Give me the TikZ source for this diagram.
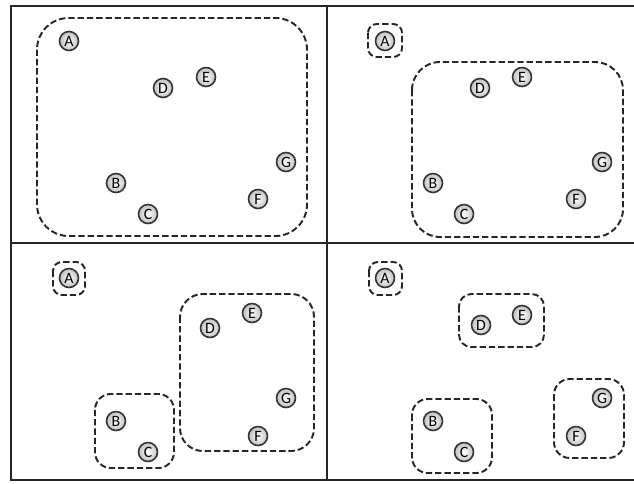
\documentclass[tikz,border=0pt]{standalone}
\usepackage{fontspec}
\setsansfont{Carlito}
\usepackage{tikz}

\tikzset{
  pt/.style={circle, draw=black!80, line width=0.9pt, inner sep=0pt,
    shading=radial, inner color=white, outer color=gray!50,
    minimum size=0.38cm, font=\sffamily\small},
  grp/.style={draw=black!85, line width=1.1pt, dash pattern=on 3.6pt off 1.7pt,
    rounded corners=#1},
  grp/.default=5pt,
  frame/.style={line width=1.6pt, black!85}
}

\begin{document}
\begin{tikzpicture}[x=0.02cm, y=-0.02cm]
    \useasboundingbox (0,0) rectangle (634,483);
    % Panel frame (open on the right side)
    \draw[frame] (640,6) -- (11,6) -- (11,480) -- (640,480);
    \draw[frame] (327,6) -- (327,480);
    \draw[frame] (11,243) -- (640,243);
    % Top left: one cluster
    \node[pt] (A1) at (69,41) {A};
    \node[pt] (B1) at (116,183) {B};
    \node[pt] (C1) at (148,214) {C};
    \node[pt] (D1) at (163,88) {D};
    \node[pt] (E1) at (206,77) {E};
    \node[pt] (F1) at (258,199) {F};
    \node[pt] (G1) at (286,162) {G};
    \draw[grp=18pt] (37,18) rectangle (307,236);
    % Top right: A split off
    \node[pt] (A2) at (385,41) {A};
    \node[pt] (B2) at (433,183) {B};
    \node[pt] (C2) at (464,214) {C};
    \node[pt] (D2) at (480,88) {D};
    \node[pt] (E2) at (522,77) {E};
    \node[pt] (F2) at (576,199) {F};
    \node[pt] (G2) at (602,162) {G};
    \draw[grp] (368,24) rectangle (402,57);
    \draw[grp=16pt] (412,62) rectangle (623,237);
    % Bottom left: three clusters
    \node[pt] (A3) at (69,278) {A};
    \node[pt] (B3) at (116,421) {B};
    \node[pt] (C3) at (148,452) {C};
    \node[pt] (D3) at (210,328) {D};
    \node[pt] (E3) at (252,313) {E};
    \node[pt] (F3) at (258,436) {F};
    \node[pt] (G3) at (286,398) {G};
    \draw[grp] (53,262) rectangle (85,295);
    \draw[grp=9pt] (95,394) rectangle (174,468);
    \draw[grp=13pt] (180,294) rectangle (314,451);
    % Bottom right: four clusters
    \node[pt] (A4) at (385,278) {A};
    \node[pt] (B4) at (433,421) {B};
    \node[pt] (C4) at (464,452) {C};
    \node[pt] (D4) at (481,325) {D};
    \node[pt] (E4) at (522,315) {E};
    \node[pt] (F4) at (576,436) {F};
    \node[pt] (G4) at (602,398) {G};
    \draw[grp] (369,262) rectangle (402,295);
    \draw[grp=7pt] (459,294) rectangle (544,347);
    \draw[grp=9pt] (412,399) rectangle (492,473);
    \draw[grp=9pt] (554,379) rectangle (624,458);
\end{tikzpicture}
\end{document}
